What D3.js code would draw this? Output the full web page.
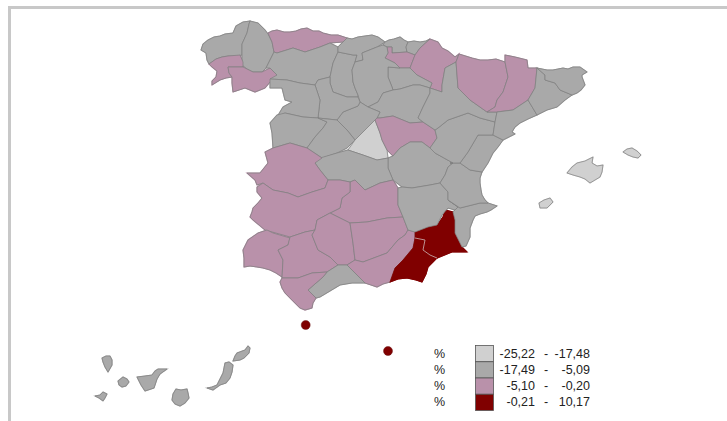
<!DOCTYPE html>
<html>
<head>
<meta charset="utf-8">
<title>Mapa provincial</title>
<script src="https://cdn.jsdelivr.net/npm/d3@7"></script>
<style>
  html, body { margin: 0; padding: 0; background: #fff; }
  svg { display: block; }
  text { font-family: "Liberation Sans", Arial, sans-serif; font-size: 12.5px; fill: #222; }
</style>
</head>
<body>
<svg id="chart" width="727" height="421"></svg>
<script>
"use strict";
// legend classes, lowest to highest
const classLow = ["-25,22", "-17,49", "-5,10", "-0,21"];
const classHigh = ["-17,48", "-5,09", "-0,20", "10,17"];
const classColors = ["#d0d0d0", "#a9a9a9", "#b991aa", "#800000"];

// province outlines in map units. class = index into the legend
const coruna = [[250,21],[243,22],[236,26],[233,33],[225,34],[220,36],[214,37],[208,40],[203,44],[201,50],[206,53],[207,60],[209,64],[216,59],[222,57],[228,56],[236,56],[242,55],[242,44],[247,33],[249,24]];
const lugo = [[250,21],[258,23],[265,30],[268,34],[272,42],[274,52],[270,60],[266,68],[262,72],[253,72],[247,69],[242,65],[242,55],[242,44],[247,33],[249,24]];
const pontevedra = [[209,64],[216,59],[222,57],[228,56],[240,55],[243,62],[243,67],[228,67],[229,73],[232,77],[226,78],[220,80],[212,85],[212,81],[216,77],[217,71],[212,67]];
const ourense = [[228,67],[243,67],[247,69],[253,72],[262,72],[270,68],[277,75],[270,82],[265,88],[255,92],[245,88],[233,92],[232,83],[232,77],[229,73]];
const asturias = [[268,33],[272,31],[277,30],[284,32],[290,32],[296,31],[301,29],[307,28],[313,31],[319,31],[323,33],[331,35],[338,35],[347,38],[343,42],[330,43],[320,47],[305,52],[293,48],[277,53],[274,52],[272,42]];
const leon = [[277,53],[293,48],[305,52],[320,47],[330,43],[338,47],[338,52],[333,63],[330,77],[318,80],[315,85],[300,83],[287,80],[270,79],[277,75],[270,68],[266,68],[270,60],[274,52]];
const palencia = [[338,52],[353,55],[357,55],[355,62],[352,70],[353,82],[355,88],[358,95],[358,97],[347,97],[333,92],[330,83],[330,77],[333,63]];
const cantabria = [[347,38],[352,39],[358,37],[365,36],[372,35],[378,37],[385,42],[377,47],[362,53],[363,60],[355,62],[357,55],[353,55],[338,52],[338,47],[343,42]];
const vizcaya = [[385,42],[389,40],[394,39],[400,37],[404,40],[408,42],[406,47],[407,52],[392,53],[392,47],[387,47],[383,45]];
const guipuzcoa = [[408,42],[414,41],[420,42],[426,41],[430,39],[420,48],[415,55],[407,52],[406,47]];
const alava = [[387,47],[392,47],[392,53],[407,52],[415,55],[410,68],[400,68],[395,63],[385,58],[388,53]];
const navarra = [[430,39],[438,42],[442,48],[448,51],[455,57],[459,54],[456,62],[445,68],[442,85],[442,92],[430,88],[432,83],[417,75],[410,68],[415,55],[420,48]];
const rioja = [[388,67],[400,68],[410,68],[417,75],[432,83],[430,88],[420,85],[413,85],[400,89],[393,90],[392,87],[388,77]];
const burgos = [[362,53],[377,47],[383,45],[387,47],[388,53],[385,58],[395,63],[400,68],[388,67],[388,77],[392,87],[393,90],[383,93],[378,102],[368,107],[360,102],[358,95],[355,88],[353,82],[352,70],[355,62],[363,60]];
const soria = [[393,90],[400,89],[413,85],[420,85],[430,88],[430,93],[423,107],[418,118],[423,122],[410,123],[393,116],[380,118],[377,118],[380,112],[368,107],[378,102],[383,93]];
const segovia = [[337,120],[343,112],[358,106],[360,102],[368,107],[380,112],[377,118],[367,128],[355,140],[347,130]];
const valladolid = [[315,85],[318,80],[330,77],[330,83],[333,92],[347,97],[358,97],[360,102],[358,106],[343,112],[337,120],[318,118],[320,100]];
const zamora = [[270,79],[287,80],[300,83],[315,85],[320,100],[318,118],[303,117],[285,113],[277,117],[283,107],[292,102],[285,100],[282,88],[270,88]];
const salamanca = [[277,115],[285,113],[303,117],[318,118],[327,122],[323,128],[315,137],[307,148],[290,143],[273,148],[272,133],[270,123]];
const avila = [[318,118],[337,120],[347,130],[355,140],[347,148],[337,153],[322,158],[313,152],[307,148],[315,137],[323,128],[327,122]];
const madrid = [[375,120],[380,133],[382,140],[387,150],[388,158],[377,160],[363,155],[348,150],[355,140],[367,128]];
const guadalajara = [[377,118],[380,118],[393,116],[410,123],[423,122],[435,130],[437,138],[430,148],[422,142],[410,142],[400,148],[393,156],[387,150],[382,140],[380,133],[375,120]];
const cuenca = [[388,158],[393,156],[400,148],[410,142],[422,142],[430,148],[435,153],[453,163],[448,167],[445,175],[440,183],[430,185],[412,188],[402,187],[393,180],[388,168]];
const toledo = [[320,158],[337,153],[348,150],[363,155],[377,160],[388,158],[388,168],[393,180],[380,183],[365,190],[355,180],[350,182],[340,180],[328,180],[320,170],[315,163]];
const ciudadReal = [[350,185],[350,182],[355,180],[365,190],[380,183],[393,180],[398,188],[398,205],[403,217],[387,218],[367,222],[350,223],[330,213],[340,208],[342,198],[350,192]];
const caceres = [[265,152],[273,148],[290,143],[307,148],[313,152],[322,158],[315,163],[320,170],[328,180],[325,188],[312,192],[298,197],[288,193],[273,190],[263,183],[257,185],[255,180],[247,173],[260,173],[268,163]];
const badajoz = [[257,187],[263,183],[273,190],[288,193],[298,197],[312,192],[325,188],[328,180],[340,180],[350,182],[350,192],[342,198],[340,208],[330,213],[317,220],[315,230],[305,232],[290,237],[283,235],[265,230],[253,220],[250,217],[252,212],[253,208],[258,203],[262,198],[257,192]];
const huelva = [[258,233],[267,230],[273,233],[290,238],[288,245],[278,250],[283,260],[282,277],[276,273],[270,270],[263,268],[257,267],[250,266],[244,267],[244,258],[243,250],[248,240]];
const sevilla = [[290,237],[305,232],[315,230],[312,235],[318,250],[330,257],[338,265],[327,272],[312,273],[298,278],[282,278],[283,260],[278,250],[288,245]];
const cordoba = [[315,230],[317,220],[330,213],[350,223],[353,243],[355,260],[347,265],[338,265],[330,257],[318,250],[312,235]];
const jaen = [[350,223],[367,222],[387,218],[403,217],[408,230],[405,235],[398,240],[387,253],[363,262],[355,260],[353,243]];
const granada = [[405,235],[408,230],[415,232],[415,238],[413,248],[403,260],[395,268],[390,282],[383,284],[377,287],[371,285],[365,283],[352,270],[347,265],[355,260],[363,262],[387,253],[398,240]];
const almeria = [[415,238],[425,240],[423,250],[430,255],[437,258],[433,262],[428,267],[426,274],[422,282],[416,280],[407,278],[398,279],[390,282],[395,268],[403,260],[413,248]];
const murcia = [[415,238],[415,232],[428,227],[437,225],[443,217],[445,210],[453,212],[455,220],[455,233],[462,247],[467,252],[452,252],[437,258],[430,255],[423,250],[425,240]];
const malaga = [[308,290],[323,277],[327,272],[338,265],[347,265],[352,270],[365,283],[352,283],[340,285],[330,291],[320,297],[316,298]];
const cadiz = [[282,278],[298,278],[312,273],[327,272],[323,277],[308,290],[316,298],[313,303],[312,308],[305,310],[300,308],[297,305],[291,299],[285,293],[282,288],[280,282]];
const albacete = [[398,188],[402,187],[412,188],[430,185],[440,183],[448,192],[448,200],[458,207],[455,210],[448,208],[442,215],[437,225],[428,227],[415,232],[408,230],[403,217],[398,205]];
const alicante = [[448,200],[460,208],[480,203],[488,203],[497,206],[491,210],[487,212],[480,214],[475,216],[473,220],[470,228],[470,237],[466,246],[462,247],[455,233],[455,220],[453,212],[455,210],[458,207]];
const valencia = [[450,163],[460,163],[470,170],[482,172],[480,178],[480,183],[481,190],[482,195],[485,200],[488,203],[480,203],[460,208],[448,200],[448,192],[440,183],[445,175],[448,167],[453,163]];
const castellon = [[460,163],[468,152],[478,135],[493,135],[503,140],[498,147],[493,153],[488,163],[482,172],[470,170]];
const teruel = [[435,153],[430,148],[437,138],[435,130],[438,128],[448,120],[468,113],[480,118],[495,122],[493,135],[478,135],[468,152],[460,163],[450,163],[453,163]];
const zaragoza = [[430,88],[442,92],[442,85],[445,68],[456,62],[457,75],[458,88],[470,100],[487,112],[497,112],[495,122],[480,118],[468,113],[448,120],[438,128],[435,130],[423,122],[418,118],[423,107],[430,93]];
const huesca = [[459,54],[472,58],[480,60],[488,60],[496,59],[505,62],[508,77],[503,92],[497,100],[495,107],[487,112],[470,100],[458,88],[457,75],[456,62]];
const lleida = [[505,55],[515,57],[527,60],[528,68],[537,68],[535,88],[528,100],[513,110],[497,112],[487,112],[495,107],[497,100],[503,92],[508,77],[505,62]];
const tarragona = [[497,112],[513,110],[528,100],[537,115],[528,119],[520,123],[515,127],[512,132],[515,134],[513,135],[503,140],[493,135],[495,122]];
const barcelona = [[537,68],[545,75],[545,80],[555,83],[560,90],[572,95],[565,100],[557,107],[547,110],[537,115],[528,100],[535,88]];
const girona = [[537,68],[547,70],[553,70],[563,68],[568,69],[573,67],[580,67],[587,72],[582,75],[582,77],[585,85],[581,90],[577,93],[572,95],[560,90],[555,83],[545,80],[545,75]];
const mallorca = [[567,173],[572,167],[577,163],[585,161],[593,157],[592,163],[597,166],[603,165],[602,172],[600,177],[595,180],[590,183],[585,179],[580,177],[573,175]];
const menorca = [[623,152],[627,149],[632,148],[637,151],[641,155],[638,158],[633,157],[628,155]];
const ibiza = [[539,203],[544,200],[550,198],[553,202],[550,205],[547,208],[540,208]];
const laPalma = [[102,358],[106,356],[110,356],[112,360],[112,365],[108,372],[105,367],[103,362]];
const gomera = [[118,381],[123,377],[127,379],[129,382],[126,386],[122,387],[119,385]];
const hierro = [[95,396],[100,395],[103,392],[107,394],[105,398],[103,401],[99,398]];
const tenerife = [[137,377],[145,376],[152,375],[155,371],[158,369],[167,369],[160,374],[157,379],[155,385],[154,388],[145,391],[141,385]];
const granCanaria = [[176,389],[181,390],[187,389],[188,393],[189,398],[185,403],[180,406],[175,404],[172,400],[173,394]];
const fuerteventura = [[207,388],[212,387],[217,385],[220,379],[223,373],[225,363],[229,362],[233,365],[232,372],[230,378],[226,383],[220,385],[213,390]];
const lanzarote = [[233,361],[235,356],[237,353],[245,350],[248,346],[250,348],[249,353],[244,358],[240,360]];
const almeriaMurciaBorder = [[415,238],[425,240],[423,250],[430,255],[437,258]];

const provinceRings = [coruna, lugo, pontevedra, ourense, asturias, leon, palencia, cantabria, vizcaya, guipuzcoa, alava, navarra, rioja, burgos, soria, segovia, valladolid, zamora, salamanca, avila, madrid, guadalajara, cuenca, toledo, ciudadReal, caceres, badajoz, huelva, sevilla, cordoba, jaen, granada, almeria, murcia, malaga, cadiz, albacete, alicante, valencia, castellon, teruel, zaragoza, huesca, lleida, tarragona, barcelona, girona, mallorca, menorca, ibiza, laPalma, gomera, hierro, tenerife, granCanaria, fuerteventura, lanzarote];
const provinceClass = [1, 1, 2, 2, 2, 1, 1, 1, 1, 1, 2, 2, 1, 1, 1, 1, 1, 1, 1, 1, 0, 2, 1, 1, 2, 2, 2, 2, 2, 2, 2, 2, 3, 3, 1, 2, 1, 1, 1, 1, 1, 1, 2, 2, 1, 1, 1, 0, 0, 0, 1, 1, 1, 1, 1, 1, 1];
// Ceuta and Melilla are shown as dots
const cityPoints = [[305.7, 325], [388, 351]];
const cityClass = [3, 3];

const svg = d3.select("#chart");

// outer frame, only top and left sides are visible in the picture
svg.append("path")
    .attr("d", "M9.5,421V7.5H727")
    .attr("fill", "none")
    .attr("stroke", "#c8c8c8")
    .attr("stroke-width", 3);

const projection = d3.geoIdentity();
const path = d3.geoPath(projection).pointRadius(4.5);
const color = d3.scaleOrdinal().domain(d3.range(classColors.length)).range(classColors);

const features = provinceRings.map((ring, i) => ({
    type: "Feature",
    properties: { cls: provinceClass[i] },
    geometry: { type: "Polygon", coordinates: [ring.concat([ring[0]])] }
}));

const map = svg.append("g").style("filter", "blur(0.4px)");

// first pass closes the little slivers between neighbours
map.selectAll(".under").data(features).join("path")
    .attr("class", "under")
    .attr("d", path)
    .attr("fill", d => color(d.properties.cls))
    .attr("stroke", d => color(d.properties.cls))
    .attr("stroke-width", 1.2);

map.selectAll(".province").data(features).join("path")
    .attr("class", "province")
    .attr("d", path)
    .attr("fill", d => color(d.properties.cls))
    .attr("stroke", d => d.properties.cls === 3 ? "#800000" : "#7f7f7f")
    .attr("stroke-width", 0.7)
    .attr("stroke-linejoin", "round");

// the pale seam between the two dark provinces
map.append("path")
    .attr("d", path({ type: "LineString", coordinates: almeriaMurciaBorder }))
    .attr("fill", "none")
    .attr("stroke", "#c4a0a0")
    .attr("stroke-width", 0.9);

map.selectAll(".city").data(cityPoints).join("path")
    .attr("class", "city")
    .attr("d", d => path({ type: "Point", coordinates: d }))
    .attr("fill", (d, i) => color(cityClass[i]))
    .attr("stroke", "#6e1a1a")
    .attr("stroke-width", 0.5);

// legend
const rowY = d3.scaleBand().domain(d3.range(classLow.length)).range([345.5, 410.5]);
const legend = svg.append("g");
const rows = legend.selectAll("g").data(classLow).join("g")
    .attr("transform", (d, i) => `translate(0,${rowY(i)})`);

rows.append("rect")
    .attr("x", 475.5)
    .attr("width", 18)
    .attr("height", rowY.bandwidth())
    .attr("fill", (d, i) => classColors[i])
    .attr("stroke", "#555")
    .attr("stroke-width", 0.8);

const midY = rowY.bandwidth() / 2 + 4;
rows.append("text").attr("x", 434).attr("y", midY).text("%");
rows.append("text").attr("x", 535).attr("y", midY).attr("text-anchor", "end").text(d => d);
rows.append("text").attr("x", 546).attr("y", midY).attr("text-anchor", "middle").text("-");
rows.append("text").attr("x", 590).attr("y", midY).attr("text-anchor", "end").text((d, i) => classHigh[i]);
</script>
</body>
</html>
